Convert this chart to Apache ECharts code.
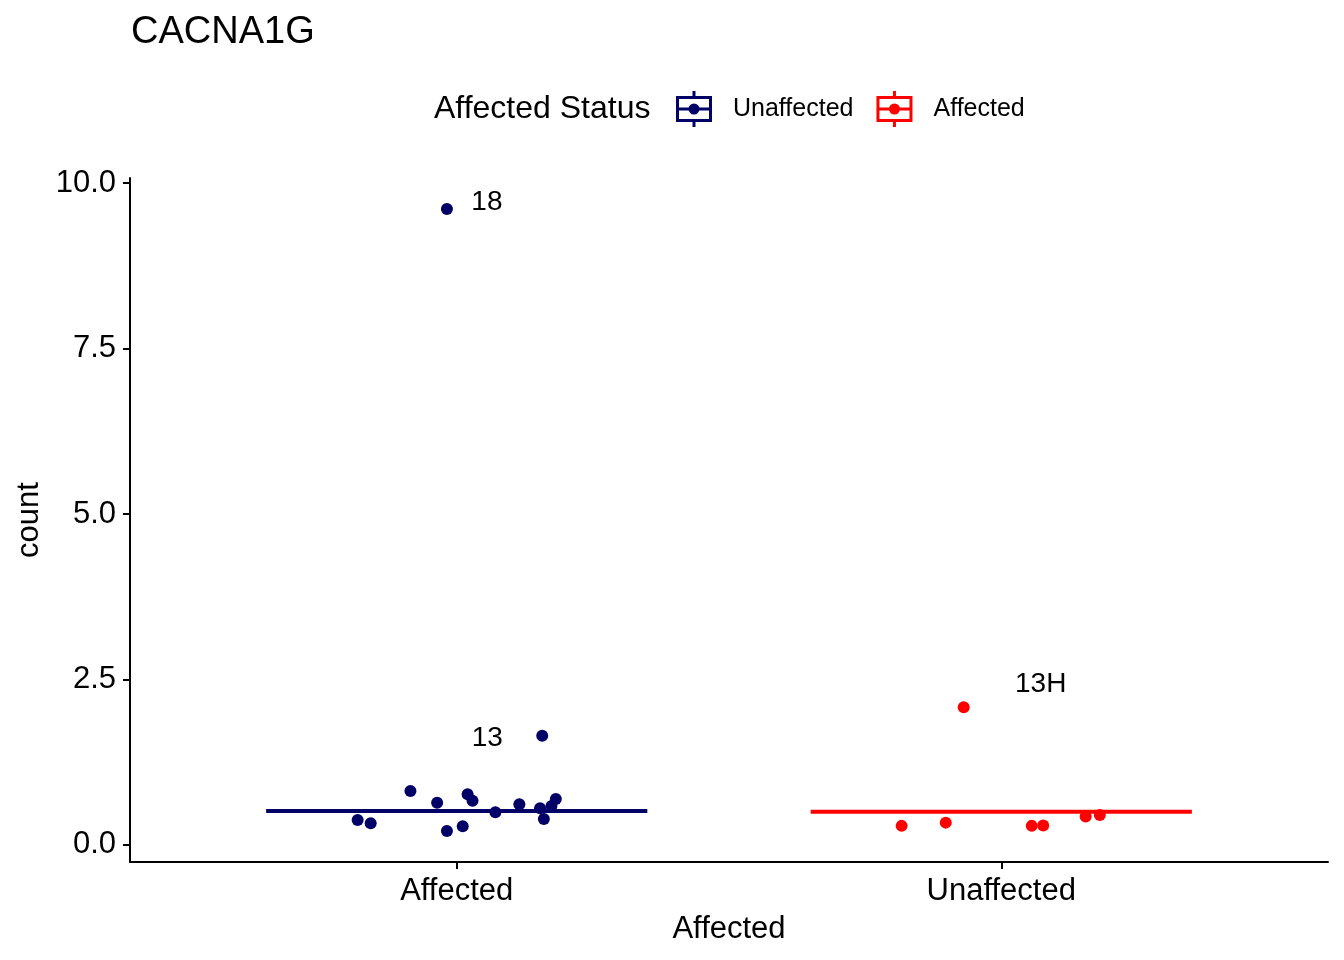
<!DOCTYPE html>
<html>
<head>
<meta charset="utf-8">
<script src="https://cdn.jsdelivr.net/npm/echarts@6/dist/echarts.min.js"></script>
<style>html,body{margin:0;padding:0;background:#fff}#c{width:1344px;height:960px}</style>
</head>
<body>
<div id="c"></div>
<script>
// ---- data ----
var categories = ['Affected', 'Unaffected'];
var yTicks = [0, 2.5, 5, 7.5, 10];
var legendNames = ['Unaffected', 'Affected'];

// navy group, plotted at category "Affected" (position 1), jittered x
var navyX = [1.157, 0.915, 0.964, 1.020, 1.029, 0.818, 0.842, 0.982, 1.011, 1.071, 1.115, 1.153, 1.160, 1.174, 1.182, 0.982];
var navyY = [1.649, 0.814, 0.638, 0.765, 0.668, 0.377, 0.327, 0.211, 0.282, 0.493, 0.614, 0.553, 0.392, 0.588, 0.694, 9.608];
var navyLabels = ['13', '', '', '', '', '', '', '', '', '', '', '', '', '', '', '18'];

// red group, plotted at category "Unaffected" (position 2), jittered x
var redX = [1.931, 1.817, 1.898, 2.056, 2.077, 2.155, 2.181];
var redY = [2.081, 0.287, 0.336, 0.287, 0.291, 0.427, 0.452];
var redLabels = ['13H', '', '', '', '', '', ''];

// horizontal summary lines (one per group)
var lineValues = [0.513, 0.502];
var lineHalfWidth = 0.35;

var NAVY = '#000066', RED = '#ff0000';
var FONT = 'Liberation Sans, Arial, Helvetica, sans-serif';

var labelOffsets = { '18': [40, -7], '13': [-55, 3], '13H': [77, -23] };

function pts(xs, ys, labs) {
  return xs.map(function (x, i) {
    var d = { value: [x, ys[i]] };
    if (labs[i]) {
      d.label = {
        show: true, formatter: labs[i], position: 'inside',
        offset: labelOffsets[labs[i]], color: '#000', fontSize: 28, fontFamily: FONT
      };
    }
    return d;
  });
}

var icon = 'path://M0 5H36V8H0Z M0 28H36V31H0Z M0 5H3V31H0Z M33 5H36V31H33Z M0 16.5H36V19.5H0Z M16.5 0H19.5V5H16.5Z M16.5 31H19.5V36H16.5Z M23.5 18A5.5 5.5 0 1 1 12.5 18A5.5 5.5 0 1 1 23.5 18Z';

var chart = echarts.init(document.getElementById('c'), null, { renderer: 'canvas' });
chart.setOption({
  backgroundColor: '#fff',
  animation: false,
  textStyle: { fontFamily: FONT },
  title: [
    { text: 'CACNA1G', left: 126, top: 9, textStyle: { fontSize: 38, fontWeight: 'normal', color: '#000', fontFamily: FONT } },
    { text: 'Affected Status', left: 429, top: 88, textStyle: { fontSize: 32, fontWeight: 'normal', color: '#000', fontFamily: FONT } }
  ],
  legend: {
    left: 671, top: 86, itemWidth: 36, itemHeight: 36, itemGap: 23,
    data: [
      { name: legendNames[0], icon: icon, itemStyle: { color: NAVY, borderWidth: 0, opacity: 1 } },
      { name: legendNames[1], icon: icon, itemStyle: { color: RED, borderWidth: 0, opacity: 1 } }
    ],
    textStyle: { fontSize: 25, color: '#000', fontFamily: FONT, padding: [0, 0, 0, 16] }
  },
  grid: { left: 130, right: 16, top: 178, bottom: 98, containLabel: false },
  xAxis: {
    type: 'value', min: 0.4, max: 2.6,
    name: 'Affected', nameLocation: 'middle', nameGap: 52,
    nameTextStyle: { fontSize: 31, color: '#000', fontFamily: FONT },
    axisLine: { show: true, onZero: false, lineStyle: { color: '#000', width: 2 } },
    axisTick: { show: true, length: 7, customValues: [1, 2], lineStyle: { color: '#000', width: 2 } },
    axisLabel: { customValues: [1, 2], fontSize: 31, color: '#000', margin: 14,
      formatter: function (v) { return categories[Math.round(v) - 1] || ''; } },
    splitLine: { show: false }
  },
  yAxis: {
    type: 'value', min: -0.259, max: 10.078,
    name: 'count', nameLocation: 'middle', nameGap: 84, nameRotate: 90,
    nameTextStyle: { fontSize: 31, color: '#000', fontFamily: FONT },
    axisLine: { show: true, onZero: false, lineStyle: { color: '#000', width: 2 } },
    axisTick: { show: true, length: 7, customValues: yTicks, lineStyle: { color: '#000', width: 2 } },
    axisLabel: { customValues: yTicks, fontSize: 31, color: '#000', margin: 14,
      formatter: function (v) { return v.toFixed(1); } },
    splitLine: { show: false }
  },
  series: [
    { name: legendNames[0], type: 'scatter', symbolSize: 12, itemStyle: { color: NAVY, opacity: 1 }, data: pts(navyX, navyY, navyLabels), z: 3 },
    { name: legendNames[1], type: 'scatter', symbolSize: 12, itemStyle: { color: RED, opacity: 1 }, data: pts(redX, redY, redLabels), z: 3 },
    { name: legendNames[0], type: 'line', symbol: 'none', lineStyle: { color: NAVY, width: 4 }, itemStyle: { color: NAVY },
      data: [[1 - lineHalfWidth, lineValues[0]], [1 + lineHalfWidth, lineValues[0]]], z: 2 },
    { name: legendNames[1], type: 'line', symbol: 'none', lineStyle: { color: RED, width: 4 }, itemStyle: { color: RED },
      data: [[2 - lineHalfWidth, lineValues[1]], [2 + lineHalfWidth, lineValues[1]]], z: 2 }
  ]
});
</script>
</body>
</html>
